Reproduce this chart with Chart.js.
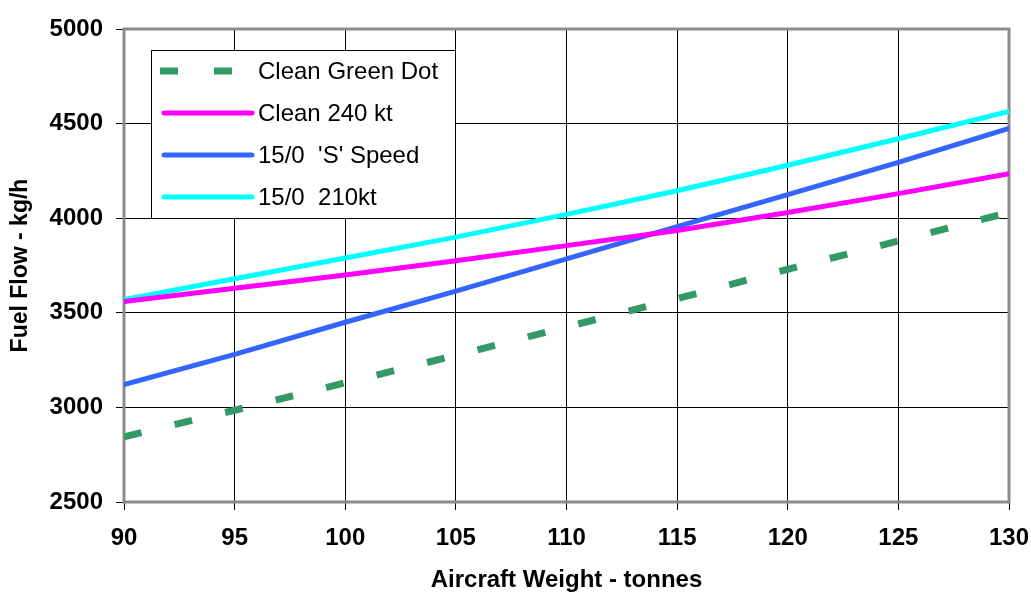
<!DOCTYPE html>
<html>
<head>
<meta charset="utf-8">
<script src="https://cdn.jsdelivr.net/npm/chart.js@4/dist/chart.umd.min.js"></script>
<style>
  html, body { margin: 0; padding: 0; background: #fff; }
  #wrap { width: 1031px; height: 595px; position: relative; }
</style>
</head>
<body>
<div id="wrap"><canvas id="fuelChart"></canvas></div>
<script>
// Aircraft weight (tonnes)
const weights = [90, 95, 100, 105, 110, 115, 120, 125, 130];

// Fuel flow (kg/h)
const cleanGreenDot = [2845, 2985, 3130, 3275, 3425, 3575, 3730, 3880, 4030];
const clean240 = [3560, 3630, 3700, 3775, 3855, 3935, 4030, 4130, 4235];
const sSpeed = [3120, 3280, 3450, 3615, 3785, 3955, 4125, 4295, 4475];
const flap210 = [3570, 3680, 3790, 3900, 4020, 4145, 4280, 4420, 4565];

const seriesNames = ['Clean Green Dot', 'Clean 240 kt', "15/0  'S' Speed", '15/0  210kt'];
const yTicks = [2500, 3000, 3500, 4000, 4500, 5000];

const toPoints = vals => vals.map((v, i) => ({ x: weights[i], y: v }));
const FONT = '"Liberation Sans", Arial, sans-serif';

// grey frame round the plot, drawn under the lines
const framePlugin = {
    id: 'frame',
    beforeDatasetsDraw(chart) {
        const { ctx, chartArea: a } = chart;
        ctx.save();
        ctx.strokeStyle = '#8c8c8c';
        ctx.lineWidth = 3;
        ctx.strokeRect(a.left, a.top, a.right - a.left, a.bottom - a.top);
        ctx.restore();
    }
};

// legend box sitting inside the plot area, top-left
const boxLegend = {
    id: 'boxLegend',
    afterDatasetsDraw(chart) {
        const { ctx, chartArea: a } = chart;
        const bx = a.left + 27, by = a.top + 21, bw = 304, bh = 168;
        ctx.save();
        ctx.fillStyle = '#fff';
        ctx.fillRect(bx, by, bw, bh);
        ctx.strokeStyle = '#000';
        ctx.lineWidth = 1;
        ctx.strokeRect(bx + 0.5, by + 0.5, bw, bh);
        ctx.font = '24px ' + FONT;
        ctx.textBaseline = 'middle';
        chart.data.datasets.forEach((ds, i) => {
            const yy = by + 21 + i * 42;
            ctx.strokeStyle = ds.borderColor;
            ctx.lineWidth = ds.borderWidth;
            ctx.lineCap = ds.borderDash ? 'butt' : 'round';
            ctx.beginPath();
            if (ds.borderDash) {
                ctx.moveTo(bx + 9, yy); ctx.lineTo(bx + 27, yy);
                ctx.moveTo(bx + 63, yy); ctx.lineTo(bx + 81, yy);
            } else {
                ctx.moveTo(bx + 13, yy); ctx.lineTo(bx + 101, yy);
            }
            ctx.stroke();
            ctx.fillStyle = '#000';
            ctx.fillText(ds.label, bx + 107, yy + 1);
        });
        ctx.restore();
    }
};

const ctx = document.getElementById('fuelChart').getContext('2d');
new Chart(ctx, {
    type: 'line',
    data: {
        datasets: [
            {
                label: seriesNames[0],
                data: toPoints(cleanGreenDot),
                borderColor: '#339966',
                borderWidth: 7,
                borderDash: [18, 34],
                borderCapStyle: 'butt'
            },
            {
                label: seriesNames[1],
                data: toPoints(clean240),
                borderColor: '#ff00ff',
                borderWidth: 5,
                borderCapStyle: 'round'
            },
            {
                label: seriesNames[2],
                data: toPoints(sSpeed),
                borderColor: '#3366ff',
                borderWidth: 5,
                borderCapStyle: 'round'
            },
            {
                label: seriesNames[3],
                data: toPoints(flap210),
                borderColor: '#00ffff',
                borderWidth: 5,
                borderCapStyle: 'round'
            }
        ]
    },
    options: {
        responsive: true,
        maintainAspectRatio: false,
        animation: false,
        layout: { padding: { top: 29, right: 22, left: 0, bottom: 0 } },
        elements: { point: { radius: 0 }, line: { tension: 0 } },
        plugins: {
            legend: { display: false },
            tooltip: { enabled: false }
        },
        scales: {
            x: {
                type: 'linear',
                min: 90,
                max: 130,
                afterFit: s => { s.height = 93; s.paddingLeft = 0; s.paddingRight = 0; },
                ticks: {
                    stepSize: 5,
                    color: '#000',
                    padding: 14,
                    callback: v => String(v),
                    font: { family: FONT, size: 24, weight: 'bold' }
                },
                grid: { color: '#000', lineWidth: 1, tickLength: 8 },
                border: { display: false },
                title: {
                    display: true,
                    text: 'Aircraft Weight - tonnes',
                    color: '#000',
                    padding: { top: 10, bottom: 0 },
                    font: { family: FONT, size: 24, weight: 'bold' }
                }
            },
            y: {
                min: 2500,
                max: 5000,
                afterFit: s => { s.width = 124; s.paddingTop = 0; s.paddingBottom = 0; },
                afterBuildTicks: s => { s.ticks = yTicks.map(v => ({ value: v })); },
                ticks: {
                    color: '#000',
                    padding: 13,
                    callback: v => String(v),
                    font: { family: FONT, size: 24, weight: 'bold' }
                },
                grid: { color: '#000', lineWidth: 1, tickLength: 8 },
                border: { display: false },
                title: {
                    display: true,
                    text: 'Fuel Flow - kg/h',
                    color: '#000',
                    padding: { top: 7, bottom: 0 },
                    font: { family: FONT, size: 23, weight: 'bold' }
                }
            }
        }
    },
    plugins: [framePlugin, boxLegend]
});
</script>
</body>
</html>
